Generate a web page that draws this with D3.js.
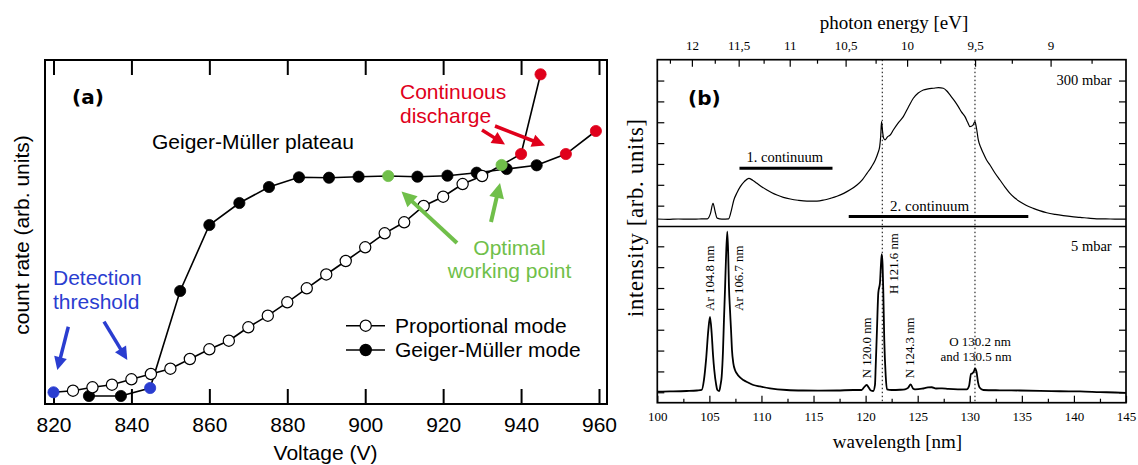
<!DOCTYPE html>
<html><head><meta charset="utf-8">
<script src="https://cdn.jsdelivr.net/npm/d3@7"></script>
<style>body{margin:0;background:#fff}svg{display:block}</style>
</head><body>
<svg id="c" width="1138" height="465"></svg>
<script>
// ---------- Panel (a) data ----------
const propVoltage = [820,825,830,835,840,845,850,855,860,865,870,875,880,885,890,895,900,905,910,915,920,925,930,935,940,945];
const propRate    = [3.40,3.87,4.85,5.61,7.18,8.72,10.26,13.08,15.90,18.40,22.30,25.67,29.56,33.63,37.65,41.57,45.55,49.62,52.82,57.56,60.26,63.95,66.28,69.48,72.67,95.84];
const propKind    = ["detect","","","","","","","","","","","","","","","","","","","","","","","optimal","discharge","discharge"];
const gmVoltage   = [829.1,837.3,844.8,852.5,860,867.7,875.3,883,890.7,898.3,905.9,913.4,921.1,928.6,936.3,944,951.5,959.2];
const gmRate      = [2.33,2.33,4.65,32.85,52.03,58.43,63.08,65.90,65.78,66.08,66.28,66.08,66.37,67.24,68.31,69.39,72.67,79.36];
const gmKind      = ["","","detect","","","","","","","","optimal","","","","","","discharge","discharge"];
const voltTicks   = [820,840,860,880,900,920,940,960];
const seriesNames = ["Proportional mode","Geiger-Müller mode"];

// ---------- Panel (b) data ----------
const topWavelength = [100.0,101.0,102.0,103.0,104.0,104.8,105.1,105.35,105.55,105.75,106.2,106.85,107.1,107.35,107.65,107.97,108.35,108.78,109.15,109.57,110.05,110.53,111.0,111.49,112.1,112.77,113.5,114.37,115.33,116.0,116.61,117.25,117.9,118.55,119.17,119.7,120.13,120.55,120.93,121.2,121.35,121.45,121.53,121.62,121.72,121.86,122.1,122.37,122.66,123.1,123.62,124.1,124.58,125.05,125.54,126.0,126.5,127.0,127.46,127.8,128.1,128.5,128.9,129.2,129.54,129.8,130.02,130.3,130.5,130.65,130.82,131.05,131.3,131.6,131.94,132.4,132.9,133.4,133.86,134.3,134.82,135.4,136.1,136.7,137.39,138.2,138.98,139.8,140.59,141.4,142.19,143.5,144.74,145.0];
const topIntensity  = [0.36,0.34,0.36,0.35,0.36,0.37,0.62,1.11,0.72,0.40,0.35,0.37,0.75,1.27,1.62,1.91,2.15,2.31,2.22,2.07,1.90,1.75,1.62,1.51,1.40,1.32,1.26,1.22,1.22,1.27,1.35,1.45,1.59,1.77,1.99,2.25,2.55,2.85,3.19,3.55,3.83,4.35,5.03,4.60,4.25,4.15,4.30,4.39,4.63,4.95,5.27,5.72,6.15,6.40,6.55,6.60,6.63,6.66,6.63,6.50,6.31,6.05,5.75,5.50,5.27,5.00,4.79,4.85,5.03,4.70,4.15,3.80,3.51,3.20,2.95,2.58,2.23,1.88,1.59,1.38,1.19,1.02,0.87,0.76,0.66,0.58,0.52,0.47,0.44,0.40,0.37,0.36,0.35,0.35];
const botWavelength = [100.0,101.22,102.82,103.81,104.26,104.48,104.68,104.9,105.06,105.22,105.35,105.47,105.64,105.77,105.95,106.07,106.18,106.31,106.4,106.5,106.59,106.72,106.81,106.88,106.98,107.08,107.17,107.3,107.46,107.62,107.94,108.26,108.71,109.22,109.86,110.82,112.42,113.99,115.62,117.25,118.82,119.62,119.84,120.1,120.32,120.51,120.73,120.9,120.97,121.09,121.22,121.38,121.47,121.55,121.63,121.7,121.79,121.93,122.05,122.51,123.3,123.78,124.07,124.33,124.55,124.74,125.42,125.99,126.35,126.76,127.34,127.94,128.87,129.71,129.93,130.12,130.24,130.41,130.5,130.65,130.79,130.94,131.3,132.9,134.82,136.74,138.66,140.58,142.5,143.94,145.0];
const botIntensity  = [0.53,0.54,0.56,0.585,0.61,1.09,2.05,3.49,4.12,3.33,2.29,1.57,0.90,0.61,0.56,0.85,1.25,2.53,3.97,5.41,6.84,8.20,7.08,5.56,4.45,3.49,2.53,1.89,1.57,1.41,1.21,1.09,0.97,0.85,0.78,0.69,0.61,0.585,0.58,0.585,0.61,0.61,0.73,0.85,0.71,0.585,0.56,0.85,1.76,3.49,5.28,5.76,6.60,7.12,6.60,5.28,3.04,1.28,0.64,0.61,0.62,0.64,0.71,0.88,0.68,0.64,0.67,0.73,0.74,0.68,0.69,0.66,0.64,0.64,0.80,1.38,1.40,1.52,1.64,1.47,0.99,0.73,0.61,0.595,0.585,0.57,0.55,0.54,0.51,0.49,0.47];
const waveTicks      = [100,105,110,115,120,125,130,135,140,145];
const waveMinorTicks = [102.5,107.5,112.5,117.5,122.5,127.5,132.5,137.5,142.5];
const energyTicks    = [12,11.5,11,10.5,10,9.5,9];
const energyLabels   = ["12","11,5","11","10,5","10","9,5","9"];
const energyMinor    = [12.25,11.75,11.25,10.75,10.25,9.75,9.25,8.75];
const markerLines    = [121.6,130.5];
const continuumName  = ["1. continuum","2. continuum"];
const continuumFrom  = [107.89,118.38];
const continuumTo    = [116.82,135.62];
const continuumLevel = [2.79,0.48];

// ---------- drawing ----------
const svg = d3.select("#c");
const SANS = "'Liberation Sans', Arial, Helvetica, sans-serif";
const SERIF = "'Liberation Serif', 'Times New Roman', serif";
const COL = {detect:"#2a3dd0", optimal:"#70bf4a", discharge:"#e0001b", "":null};

function arrow(g,x1,y1,x2,y2,color,w,hl,hw){
  const dx=x2-x1, dy=y2-y1, L=Math.hypot(dx,dy), ux=dx/L, uy=dy/L;
  const bx=x2-ux*hl, by=y2-uy*hl;
  g.append("line").attr("x1",x1).attr("y1",y1).attr("x2",bx+ux*2).attr("y2",by+uy*2)
    .attr("stroke",color).attr("stroke-width",w);
  g.append("polygon").attr("points",[[x2,y2],[bx-uy*hw,by+ux*hw],[bx+uy*hw,by-ux*hw]].map(p=>p.join(",")).join(" "))
    .attr("fill",color);
}

// ===== Panel (a) =====
const A = {l:45,r:607,t:60,b:404};
const xA = d3.scaleLinear().domain([820,960]).range([53.5,599]);
const yA = d3.scaleLinear().domain([0,100]).range([A.b,A.t]);
const ga = svg.append("g");

const axB = ga.append("g").attr("transform",`translate(0,${A.b})`)
  .call(d3.axisBottom(xA).tickValues(voltTicks).tickSize(-15).tickPadding(13.5).tickFormat(d3.format("d")));
const axT = ga.append("g").attr("transform",`translate(0,${A.t})`)
  .call(d3.axisTop(xA).tickValues(voltTicks).tickSize(-15).tickFormat(""));
[axB,axT].forEach(a=>{a.select(".domain").remove();
  a.selectAll(".tick line").attr("stroke","#000").attr("stroke-width",2);
  a.selectAll("text").attr("font-family",SANS).attr("font-size",21).attr("fill","#000");});

ga.append("rect").attr("x",A.l).attr("y",A.t).attr("width",A.r-A.l).attr("height",A.b-A.t)
  .attr("fill","none").attr("stroke","#000").attr("stroke-width",2);

ga.append("text").attr("x",325.5).attr("y",453).attr("dy","0.35em").attr("text-anchor","middle")
  .attr("font-family",SANS).attr("font-size",21).text("Voltage (V)");
ga.append("text").attr("transform","translate(22,235) rotate(-90)").attr("dy","0.35em").attr("text-anchor","middle")
  .attr("font-family",SANS).attr("font-size",21).text("count rate (arb. units)");

const lineA = d3.line().x(d=>xA(d[0])).y(d=>yA(d[1]));
const propPts = propVoltage.map((v,i)=>[v,propRate[i],propKind[i]]);
const gmPts = gmVoltage.map((v,i)=>[v,gmRate[i],gmKind[i]]);
ga.append("path").attr("d",lineA(gmPts)).attr("fill","none").attr("stroke","#000").attr("stroke-width",1.6);
ga.append("path").attr("d",lineA(propPts)).attr("fill","none").attr("stroke","#000").attr("stroke-width",1.6);
ga.selectAll("circle.gm").data(gmPts).join("circle").attr("class","gm")
  .attr("cx",d=>xA(d[0])).attr("cy",d=>yA(d[1])).attr("r",5.6)
  .attr("fill",d=>COL[d[2]]||"#000").attr("stroke",d=>COL[d[2]]||"#000").attr("stroke-width",0.8);
ga.selectAll("circle.pr").data(propPts).join("circle").attr("class","pr")
  .attr("cx",d=>xA(d[0])).attr("cy",d=>yA(d[1])).attr("r",5.6)
  .attr("fill",d=>COL[d[2]]||"#fff").attr("stroke",d=>COL[d[2]]||"#000").attr("stroke-width",d=>d[2]?0.8:1.2);

// legend
[[325.7,"#fff"],[350,"#000"]].forEach((s,i)=>{
  ga.append("line").attr("x1",346).attr("x2",385).attr("y1",s[0]).attr("y2",s[0]).attr("stroke","#000").attr("stroke-width",1.6);
  ga.append("circle").attr("cx",365.7).attr("cy",s[0]).attr("r",5.6).attr("fill",s[1]).attr("stroke","#000").attr("stroke-width",1.2);
  ga.append("text").attr("x",395).attr("y",s[0]).attr("dy","0.35em").attr("font-family",SANS).attr("font-size",21).text(seriesNames[i]);
});

// annotations (a)
function tA(x,y,s,col,anchor){ga.append("text").attr("x",x).attr("y",y).attr("dy","0.35em").attr("text-anchor",anchor||"start")
  .attr("font-family",SANS).attr("font-size",21).attr("fill",col).text(s);}
ga.append("text").attr("x",72).attr("y",104).attr("font-family","'DejaVu Sans', sans-serif").attr("font-weight","bold").attr("font-size",20).text("(a)");
tA(152,142,"Geiger-Müller plateau","#000");
tA(400,92,"Continuous",COL.discharge); tA(400,116,"discharge",COL.discharge);
tA(509.5,248,"Optimal",COL.optimal,"middle"); tA(509.5,271,"working point",COL.optimal,"middle");
tA(53,278,"Detection",COL.detect); tA(53,302,"threshold",COL.detect);
arrow(ga,482,130,505,144.5,COL.discharge,3.5,13,6.5);
arrow(ga,495,126,545,145.5,COL.discharge,3.5,13,6.5);
arrow(ga,457,243,401.5,191.5,COL.optimal,4,15,7.5);
arrow(ga,491,222,500,183,COL.optimal,4,15,7.5);
arrow(ga,68.3,326.7,57.3,370,COL.detect,3.5,13,6.5);
arrow(ga,104,321.7,127.3,360,COL.detect,3.5,13,6.5);

// ===== Panel (b) =====
const B = {l:657.3,r:1126,t:59.7,mid:226.5,b:402.7};
const xB = d3.scaleLinear().domain([100,145]).range([B.l,B.r]);
const yTop = d3.scaleLinear().domain([0,8]).range([B.mid,B.t]);
const yBot = d3.scaleLinear().domain([0,8.45]).range([B.b,B.mid]);
const gb = svg.append("g");

function styleAx(a,w){a.select(".domain").remove();a.selectAll(".tick line").attr("stroke","#000").attr("stroke-width",w||1.2);
  a.selectAll("text").attr("font-family",SERIF).attr("font-size",13).attr("fill","#000");}
styleAx(gb.append("g").attr("transform",`translate(0,${B.b})`)
  .call(d3.axisBottom(xB).tickValues(waveTicks).tickSize(-7).tickPadding(9.5).tickFormat(d3.format("d"))));
styleAx(gb.append("g").attr("transform",`translate(0,${B.b})`)
  .call(d3.axisBottom(xB).tickValues(waveMinorTicks).tickSize(-4).tickFormat("")));
styleAx(gb.append("g").attr("transform",`translate(0,${B.t})`)
  .call(d3.axisTop(xB).tickValues(energyTicks.map(e=>1239.84/e)).tickSize(-7).tickPadding(10)
    .tickFormat((d,i)=>energyLabels[i])));
styleAx(gb.append("g").attr("transform",`translate(0,${B.t})`)
  .call(d3.axisTop(xB).tickValues(energyMinor.map(e=>1239.84/e)).tickSize(-4).tickFormat("")));
[[yTop,[1,2,3,4,5,6,7]],[yBot,[0.5,1.5,2.5,3.5,4.5,5.5,6.5,7.5]]].forEach(([ys,tv])=>{
  styleAx(gb.append("g").attr("transform",`translate(${B.l},0)`).call(d3.axisLeft(ys).tickValues(tv).tickSize(-7).tickFormat("")));
  styleAx(gb.append("g").attr("transform",`translate(${B.r},0)`).call(d3.axisRight(ys).tickValues(tv).tickSize(-7).tickFormat("")));
});

// dotted lines
gb.selectAll("line.mk").data(markerLines).join("line").attr("class","mk")
  .attr("x1",d=>xB(d)).attr("x2",d=>xB(d)).attr("y1",B.t).attr("y2",B.b)
  .attr("stroke","#000").attr("stroke-width",1).attr("stroke-dasharray","1.5,2.5");

// spectra
const lineTop = d3.line().x(d=>xB(d[0])).y(d=>yTop(d[1])).curve(d3.curveMonotoneX);
const lineBot = d3.line().x(d=>xB(d[0])).y(d=>yBot(d[1])).curve(d3.curveMonotoneX);
gb.append("path").attr("d",lineTop(topWavelength.map((w,i)=>[w,topIntensity[i]])))
  .attr("fill","none").attr("stroke","#000").attr("stroke-width",1.2);
gb.append("path").attr("d",lineBot(botWavelength.map((w,i)=>[w,botIntensity[i]])))
  .attr("fill","none").attr("stroke","#000").attr("stroke-width",1.8);

// continuum bars
continuumName.forEach((n,i)=>{
  gb.append("line").attr("x1",xB(continuumFrom[i])).attr("x2",xB(continuumTo[i]))
    .attr("y1",yTop(continuumLevel[i])).attr("y2",yTop(continuumLevel[i])).attr("stroke","#000").attr("stroke-width",3);
});
function tB(x,y,s,size,anchor,rot,len){
  const t=gb.append("text").attr("font-family",SERIF).attr("font-size",size).attr("text-anchor",anchor||"start").text(s);
  if(rot){t.attr("transform",`translate(${x},${y}) rotate(-90)`).attr("dy","0.35em");}
  else t.attr("x",x).attr("y",y).attr("dy","0.35em");
  if(len) t.attr("textLength",len).attr("lengthAdjust","spacing");
}
tB(746.5,157,"1. continuum",14.5);
tB(890,206,"2. continuum",15);
tB(1111.7,80,"300 mbar",14.5,"end");
tB(1111.7,246,"5 mbar",14.5,"end");
tB(710,310.7,"Ar 104.8 nm",12.8,"start",true);
tB(739,310.7,"Ar 106.7 nm",12.8,"start",true);
tB(866.7,378.3,"N 120.0 nm",12.8,"start",true);
tB(894,294,"H 121.6 nm",12.8,"start",true);
tB(910,378.3,"N 124.3 nm",12.8,"start",true);
tB(980,341.7,"O 130.2 nm",13,"middle");
tB(976,356.7,"and 130.5 nm",13,"middle");
tB(894,22,"photon energy [eV]",19,"middle");
tB(897.5,441.7,"wavelength [nm]",19,"middle");
tB(635,218,"intensity [arb. units]",22.5,"middle",true,198);
gb.append("text").attr("x",688).attr("y",105).attr("font-family","'DejaVu Sans', sans-serif").attr("font-weight","bold").attr("font-size",20).text("(b)");

gb.append("rect").attr("x",B.l).attr("y",B.t).attr("width",B.r-B.l).attr("height",B.b-B.t)
  .attr("fill","none").attr("stroke","#000").attr("stroke-width",1.7);
gb.append("line").attr("x1",B.l).attr("x2",B.r).attr("y1",B.mid).attr("y2",B.mid).attr("stroke","#000").attr("stroke-width",1.7);
</script>
</body></html>
